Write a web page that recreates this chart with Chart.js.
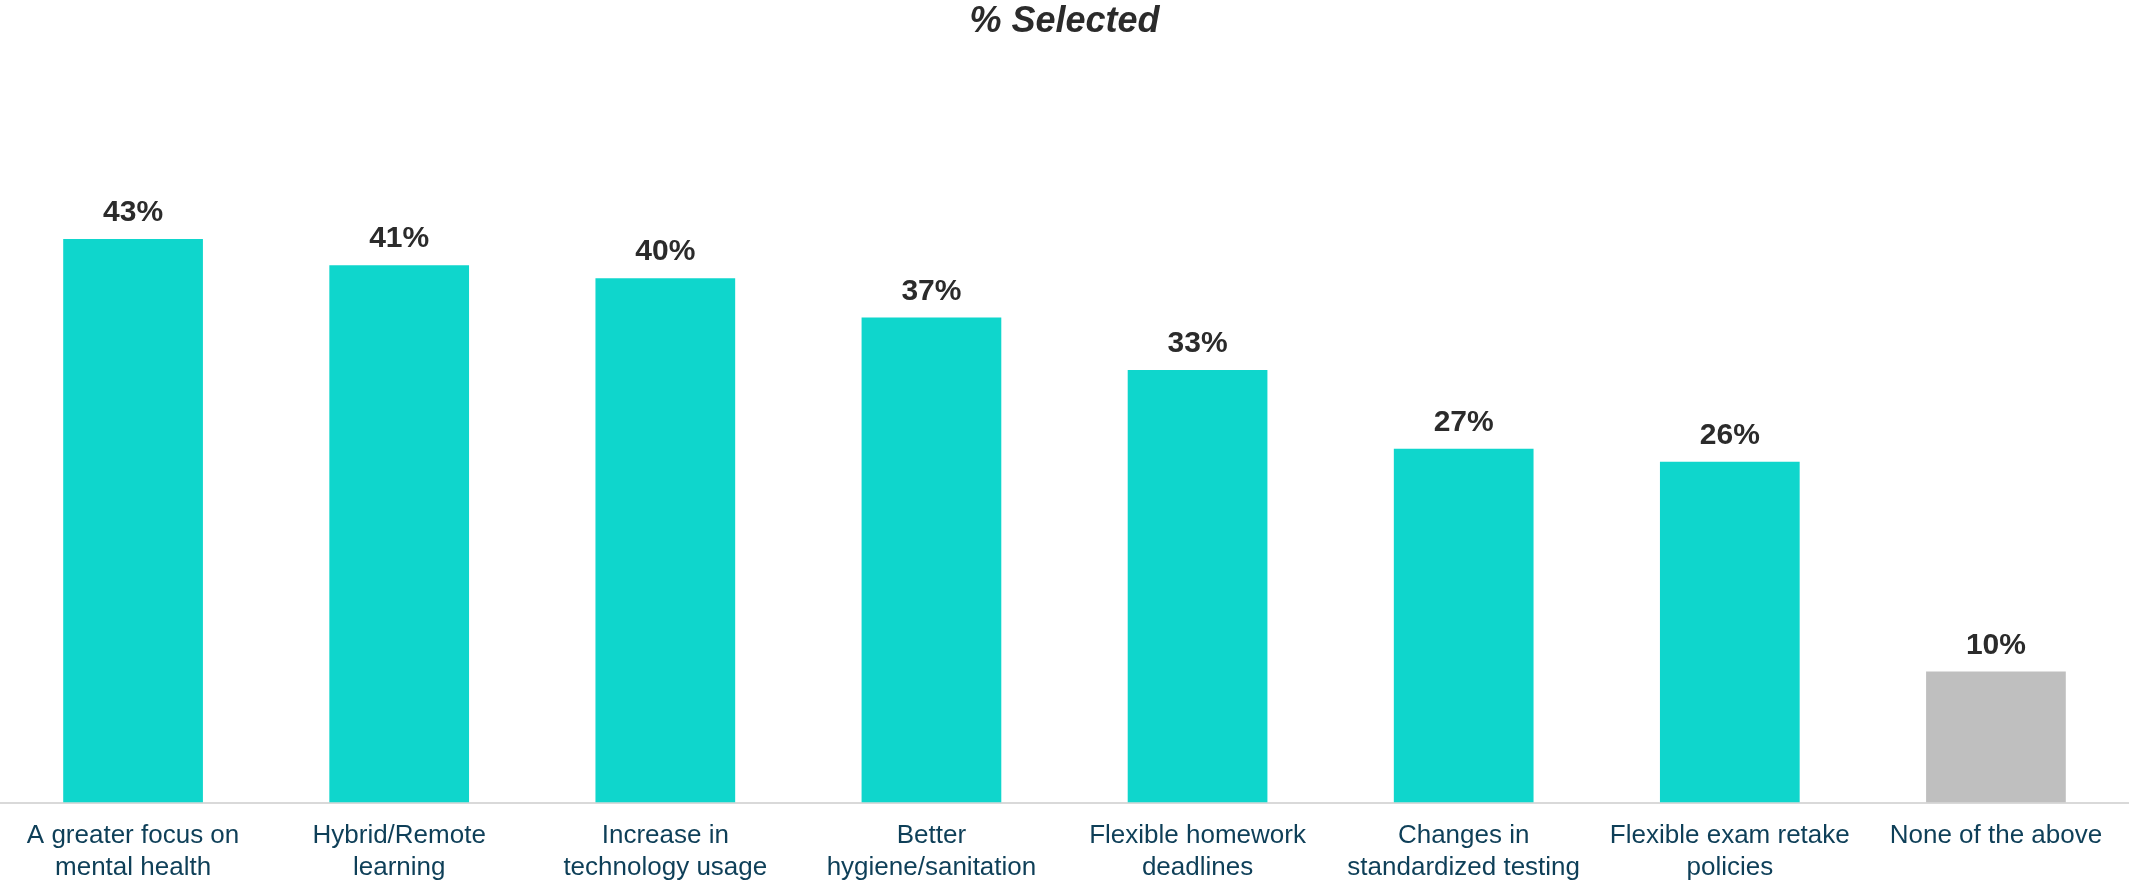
<!DOCTYPE html>
<html>
<head>
<meta charset="utf-8">
<title>% Selected</title>
<script src="https://cdn.jsdelivr.net/npm/chart.js@4.4.0/dist/chart.umd.min.js"></script>
<style>
    html, body { margin: 0; padding: 0; background: #fff; }
    #wrap { width: 2129px; height: 880px; overflow: hidden; }
    #inner { width: 2129px; height: 887px; position: relative; }
</style>
</head>
<body>
<div id="wrap"><div id="inner"><canvas id="selectedChart"></canvas></div></div>
<script>
// Categories (two-line tick labels) and percent selected
const categories = [
    ['A greater focus on', 'mental health'],
    ['Hybrid/Remote', 'learning'],
    ['Increase in', 'technology usage'],
    ['Better', 'hygiene/sanitation'],
    ['Flexible homework', 'deadlines'],
    ['Changes in', 'standardized testing'],
    ['Flexible exam retake', 'policies'],
    ['None of the above']
];
const percentSelected = [43, 41, 40, 37, 33, 27, 26, 10];

const TEAL = '#0fd6cc';
const GRAY = '#bfbfbf';
const FONT = '"Liberation Sans", Arial, sans-serif';

// Draws the "NN%" value above each bar
const valueLabels = {
    id: 'valueLabels',
    afterDatasetsDraw(chart) {
        const ctx = chart.ctx;
        const meta = chart.getDatasetMeta(0);
        ctx.save();
        ctx.font = `bold 30px ${FONT}`;
        ctx.fillStyle = '#2b2b2b';
        ctx.textAlign = 'center';
        ctx.textBaseline = 'alphabetic';
        meta.data.forEach((bar, i) => {
            ctx.fillText(`${percentSelected[i]}%`, bar.x, bar.y - 18);
        });
        ctx.restore();
    }
};

new Chart(document.getElementById('selectedChart'), {
    type: 'bar',
    data: {
        labels: categories,
        datasets: [{
            data: percentSelected,
            backgroundColor: categories.map((c, i) => i === categories.length - 1 ? GRAY : TEAL),
            categoryPercentage: 1,
            barPercentage: 0.525
        }]
    },
    options: {
        responsive: true,
        maintainAspectRatio: false,
        animation: false,
        layout: { padding: { top: 0, bottom: -14, left: 0, right: 0 } },
        plugins: {
            legend: { display: false },
            tooltip: { enabled: false },
            title: {
                display: true,
                text: '% Selected',
                color: '#2b2b2b',
                font: { family: FONT, size: 36, weight: 'bold', style: 'italic' },
                padding: { top: 0, bottom: 104 }
            }
        },
        scales: {
            x: {
                grid: { display: false, drawTicks: false },
                border: { display: true, color: '#d9d9d9', width: 2 },
                ticks: {
                    color: '#0e3f58',
                    font: { family: FONT, size: 26, lineHeight: 1.2 },
                    padding: 18,
                    maxRotation: 0,
                    autoSkip: false
                }
            },
            y: {
                display: false,
                min: 0,
                max: 50,
                grid: { display: false }
            }
        }
    },
    plugins: [valueLabels]
});
</script>
</body>
</html>
